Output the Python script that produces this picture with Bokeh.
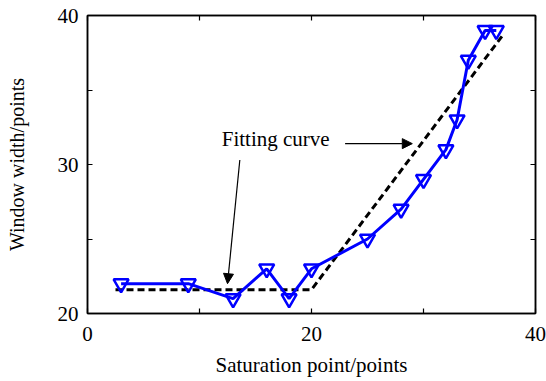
from bokeh.plotting import figure
from bokeh.models import LinearAxis, FixedTicker, Range1d, Arrow, NormalHead, Label
from bokeh.embed import file_html
from bokeh.resources import INLINE

# data
sat_x = [3, 9, 13, 16, 18, 20, 25, 28, 30, 32, 33, 34, 35.5, 36.5]
win_y = [22, 22, 21, 23, 21, 23, 25, 27, 29, 31, 33, 37, 39, 39]
fit_x = [2.5, 20, 37]
fit_y = [21.6, 21.6, 38.6]
x_ticks = [0, 10, 20, 30, 40]
y_ticks = [20, 25, 30, 35, 40]

FONT = "Liberation Serif"

p = figure(frame_width=448, frame_height=298, output_backend="svg", toolbar_location=None,
           x_range=Range1d(0, 40), y_range=Range1d(20, 40),
           x_axis_location=None, y_axis_location=None,
           min_border_left=87, min_border_right=11, min_border_top=15, min_border_bottom=68)
p.grid.visible = False
p.outline_line_color = "black"
p.outline_line_width = 1.5
p.background_fill_color = "white"
p.border_fill_color = "white"

def mk_axis(ticks, labels, label_text=None, label_size="21px"):
    ax = LinearAxis(ticker=FixedTicker(ticks=ticks))
    ax.major_tick_in = 5
    ax.major_tick_out = 0
    ax.minor_tick_line_color = None
    ax.axis_line_color = "black"
    ax.axis_line_width = 1.5
    ax.major_tick_line_width = 1.2
    ax.major_label_overrides = {t: (str(t) if t in labels else "") for t in ticks}
    ax.major_label_text_font = FONT
    ax.major_label_text_font_size = "21px"
    ax.major_label_text_color = "black"
    if label_text:
        ax.axis_label = label_text
        ax.axis_label_text_font = FONT
        ax.axis_label_text_font_size = label_size
        ax.axis_label_text_font_style = "normal"
        ax.axis_label_text_color = "black"
    return ax

xb = mk_axis(x_ticks, [0, 20, 40], "Saturation point/points", "21px")
xb.major_label_standoff = 13
xb.axis_label_standoff = 9
p.add_layout(xb, "below")
yl = mk_axis(y_ticks, [20, 30, 40], "Window width/points", "20px")
yl.major_label_standoff = 9
yl.axis_label_standoff = 27
p.add_layout(yl, "left")
xt = mk_axis(x_ticks, [])
xt.major_label_text_font_size = "0px"
xt.major_label_standoff = 0
p.add_layout(xt, "above")
yr = mk_axis(y_ticks, [])
yr.major_label_text_font_size = "0px"
yr.major_label_standoff = 0
p.add_layout(yr, "right")

p.line(fit_x, fit_y, line_color="black", line_width=3, line_dash="7 4")
p.line(sat_x, win_y, line_color="#0000ff", line_width=3)
p.scatter(sat_x, win_y, marker="inverted_triangle", size=15, fill_color=None,
          line_color="#0000ff", line_width=2.5)

p.add_layout(Label(x=16.8, y=31.7, text="Fitting curve", text_font=FONT, text_font_size="21px",
                   text_align="center", text_baseline="middle", text_color="black"))
p.add_layout(Arrow(x_start=23.0, y_start=31.4, x_end=29.0, y_end=31.4, line_width=1.2,
                   end=NormalHead(size=10, fill_color="black", line_color="black")))
p.add_layout(Arrow(x_start=13.6, y_start=30.3, x_end=12.5, y_end=22.0, line_width=1.2,
                   end=NormalHead(size=10, fill_color="black", line_color="black")))

open("out.html", "w").write(file_html(p, INLINE))
